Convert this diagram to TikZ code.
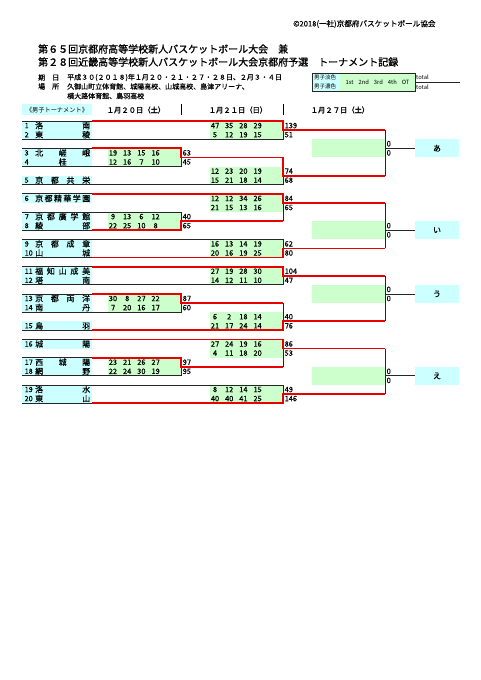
\documentclass[tikz,border=0pt]{standalone}
\usepackage{fontspec}
\setmainfont{Noto Sans CJK JP}
\newfontfamily\heavycjk[FakeBold=1.2]{Noto Sans CJK JP}
\newfontfamily\semicjk[FakeBold=0.4]{Noto Sans CJK JP}
\definecolor{cyanbg}{RGB}{204,255,255}
\definecolor{greenbg}{RGB}{204,255,204}
\definecolor{redln}{RGB}{232,0,0}
\newcommand\fs[1]{\fontsize{#1}{#1}\selectfont}
\newcommand\team[4]{%
  \fill[cyanbg] (22,{ry(#1)}) rectangle (92,{ry(#1+1)});
  \node[tnum] (n#2) at (24.5,{ry(#1)+4.6}) {#3};
  \node[tname] (t#2) at (35,{ry(#1)+4.6}) {\makebox[55pt][l]{#4}};
}
\newcommand\scores[7]{%
  \fill[greenbg] (#2,{ry(#3)}) rectangle ({#2+73},{ry(#3+2)});
  \foreach \s [count=\i] in {#4} {\node[sc] (#1u\i) at ({#2+5+14.2*(\i-1)},{ry(#3)+4.6}) {\s};}
  \foreach \s [count=\i] in {#5} {\node[sc] (#1d\i) at ({#2+5+14.2*(\i-1)},{ry(#3+1)+4.6}) {\s};}
  \node[tot] (#1a) at ({#2+74.5},{ry(#3)+4.6}) {#6};
  \node[tot] (#1b) at ({#2+74.5},{ry(#3+1)+4.6}) {#7};
}
\newcommand\final[3]{% id, row, label
  \fill[greenbg] (312,{ry(#2)}) rectangle (385,{ry(#2+2)});
  \node[tot] (#1a) at (386.5,{ry(#2)+4.6}) {0};
  \node[tot] (#1b) at (386.5,{ry(#2+1)+4.6}) {0};
  \node[res] (#1r) at (437,{ry(#2+1)}) {#3};
  \draw[blk] (385,{ry(#2+1)}) -- (#1r.west);
}
\begin{document}
\begin{tikzpicture}[x=1pt,y=-1pt,
  declare function={ry(\r)=121+9.1*\r;},
  blk/.style={line width=0.8pt,black!85},
  win/.style={line width=1.8pt,redln},
  tnum/.style={anchor=west,inner sep=0,font=\semicjk\fs{7.2}},
  tname/.style={anchor=west,inner sep=0,font=\semicjk\fs{8}},
  sc/.style={inner sep=0,font=\semicjk\fs{7.4}},
  tot/.style={anchor=west,inner sep=0,font=\semicjk\fs{7.4}},
  res/.style={fill=cyanbg,minimum width=44pt,minimum height=18.2pt,inner sep=0,font=\semicjk\fs{8}},
  txt/.style={anchor=west,inner sep=0},
]
\useasboundingbox (0,0) rectangle (481,680);
\fill[white] (0,0) rectangle (481,680);

% header texts
\node[txt,font=\semicjk\fs{7.6}] (copy) at (293,24) {©2018(一社)京都府バスケットボール協会};
\node[txt,font=\heavycjk\fs{10}] (title1) at (38,49) {第６５回京都府高等学校新人バスケットボール大会　兼};
\node[txt,font=\heavycjk\fs{10}] (title2) at (38,62) {第２８回近畿高等学校新人バスケットボール大会京都府予選　トーナメント記録};
\node[txt,font=\semicjk\fs{7}] (kijitsu) at (38,77.5) {\makebox[21pt][l]{期\hfill 日}};
\node[txt,font=\semicjk\fs{7}] (date) at (67,77.5) {平成３０(２０１８)年１月２０・２１・２７・２８日、２月３・４日};
\node[txt,font=\semicjk\fs{7}] (basho) at (38,86.5) {\makebox[21pt][l]{場\hfill 所}};
\node[txt,font=\semicjk\fs{7}] (place1) at (67,86.5) {久御山町立体育館、城陽高校、山城高校、島津アリーナ、};
\node[txt,font=\semicjk\fs{7}] (place2) at (67,96) {横大路体育館、鳥羽高校};

% legend
\fill[cyanbg] (312,73) rectangle (340,91);
\fill[greenbg] (340,73) rectangle (415,91);
\draw[blk] (312,73) rectangle (415,91);
\node[txt,font=\fs{5.5}] (lg1) at (314,77.5) {男子淡色};
\node[txt,font=\fs{5.5}] (lg2) at (314,86.5) {男子濃色};
\node[inner sep=0,font=\fs{5.8}] (lgq) at (377.5,82) {1st\hspace{5pt}2nd\hspace{5pt}3rd\hspace{5pt}4th\hspace{5pt}OT};
\node[txt,font=\fs{5.8}] (lgt1) at (416,77.5) {total};
\node[txt,font=\fs{5.8}] (lgt2) at (416,87) {total};
\coordinate (lgend) at (460,82);
\draw[blk] (415,82) -- (lgend);

% round headers
\fill[cyanbg] (22,104) rectangle (92,115);
\node[inner sep=0,font=\fs{6.2}] (hdr) at (57,110) {《男子トーナメント》};
\node[inner sep=0,font=\heavycjk\fs{7.3}] (d1) at (136,110) {１月２０日（土）};
\node[inner sep=0,font=\heavycjk\fs{7.3}] (d2) at (238,110) {１月２１日（日）};
\node[inner sep=0,font=\heavycjk\fs{7.3}] (d3) at (340,110) {１月２７日（土）};
\draw[line width=1pt] (181,104) -- (181,115);
\draw[line width=1pt] (283,104) -- (283,115);

% teams
\team{0}{1}{1}{洛\hfill 南}
\team{1}{2}{2}{東\hfill 稜}
\team{3}{3}{3}{北\hfill 嵯\hfill 峨}
\team{4}{4}{4}{\hfill 桂\hfill}
\team{6}{5}{5}{京\hfill 都\hfill 共\hfill 栄}
\team{8}{6}{6}{京\hfill 都\hfill 精\hfill 華\hfill 学\hfill 園}
\team{10}{7}{7}{京\hfill 都\hfill 廣\hfill 学\hfill 館}
\team{11}{8}{8}{綾\hfill 部}
\team{13}{9}{9}{京\hfill 都\hfill 成\hfill 章}
\team{14}{10}{10}{山\hfill 城}
\team{16}{11}{11}{福\hfill 知\hfill 山\hfill 成\hfill 美}
\team{17}{12}{12}{塔\hfill 南}
\team{19}{13}{13}{京\hfill 都\hfill 両\hfill 洋}
\team{20}{14}{14}{南\hfill 丹}
\team{22}{15}{15}{鳥\hfill 羽}
\team{24}{16}{16}{城\hfill 陽}
\team{26}{17}{17}{西\hfill 城\hfill 陽}
\team{27}{18}{18}{網\hfill 野}
\team{29}{19}{19}{洛\hfill 水}
\team{30}{20}{20}{東\hfill 山}

% round 1 (1/20)
\scores{ra}{108}{3}{19,13,15,16}{12,16,7,10}{63}{45}
\scores{rb}{108}{10}{9,13,6,12}{22,25,10,8}{40}{65}
\scores{rc}{108}{19}{30,8,27,22}{7,20,16,17}{87}{60}
\scores{rd}{108}{26}{23,21,26,27}{22,24,30,19}{97}{95}
% round 2 (1/21)
\scores{sa}{210}{0}{47,35,28,29}{5,12,19,15}{139}{51}
\scores{sb}{210}{5}{12,23,20,19}{15,21,18,14}{74}{68}
\scores{sc}{210}{8}{12,12,34,26}{21,15,13,16}{84}{65}
\scores{sd}{210}{13}{16,13,14,19}{20,16,19,25}{62}{80}
\scores{se}{210}{16}{27,19,28,30}{14,12,11,10}{104}{47}
\scores{sf}{210}{21}{6,2,18,14}{21,17,24,14}{40}{76}
\scores{sg}{210}{24}{27,24,19,16}{4,11,18,20}{86}{53}
\scores{sh}{210}{29}{8,12,14,15}{40,40,41,25}{49}{146}

% black lines
\draw[blk] (22,{ry(0)}) -- (92,{ry(0)});
\draw[blk] (22,{ry(2)}) -- (283,{ry(2)}) -- (283,{ry(1)});
\draw[blk] (22,{ry(3)}) -- (92,{ry(3)});
\draw[blk] (22,{ry(5)}) -- (181,{ry(5)}) -- (181,{ry(4)});
\draw[blk] (22,{ry(7)}) -- (283,{ry(7)}) -- (283,{ry(6)});
\draw[blk] (22,{ry(8)}) -- (92,{ry(8)});
\draw[blk] (283,{ry(9)}) -- (283,{ry(11)});
\draw[blk] (22,{ry(10)}) -- (181,{ry(10)}) -- (181,{ry(11)});
\draw[blk] (22,{ry(12)}) -- (92,{ry(12)});
\draw[blk] (22,{ry(13)}) -- (283,{ry(13)}) -- (283,{ry(14)});
\draw[blk] (22,{ry(15)}) -- (92,{ry(15)});
\draw[blk] (22,{ry(16)}) -- (92,{ry(16)});
\draw[blk] (22,{ry(18)}) -- (283,{ry(18)}) -- (283,{ry(17)});
\draw[blk] (22,{ry(19)}) -- (92,{ry(19)});
\draw[blk] (22,{ry(21)}) -- (181,{ry(21)}) -- (181,{ry(20)});
\draw[blk] (283,{ry(20)}) -- (283,{ry(22)});
\draw[blk] (22,{ry(23)}) -- (92,{ry(23)});
\draw[blk] (22,{ry(24)}) -- (92,{ry(24)});
\draw[blk] (283,{ry(25)}) -- (283,{ry(27)});
\draw[blk] (22,{ry(26)}) -- (92,{ry(26)});
\draw[blk] (22,{ry(28)}) -- (181,{ry(28)}) -- (181,{ry(27)});
\draw[blk] (22,{ry(29)}) -- (283,{ry(29)}) -- (283,{ry(30)});
\draw[blk] (22,{ry(31)}) -- (92,{ry(31)});
% round 3 verticals
\draw[blk] (385,{ry(1)}) -- (385,{ry(6)});
\draw[blk] (385,{ry(9)}) -- (385,{ry(14)});
\draw[blk] (385,{ry(17)}) -- (385,{ry(22)});
\draw[blk] (385,{ry(25)}) -- (385,{ry(30)});

% finals (1/27)
\final{fa}{2}{あ}
\final{fb}{11}{い}
\final{fc}{18}{う}
\final{fd}{27}{え}

% winner lines
\draw[win] (92,{ry(0)}) -- (283,{ry(0)}) -- (283,{ry(1)}) -- (385,{ry(1)});
\draw[win] (92,{ry(3)}) -- (181,{ry(3)}) -- (181,{ry(4)}) -- (283,{ry(4)}) -- (283,{ry(6)}) -- (385,{ry(6)});
\draw[win] (92,{ry(8)}) -- (283,{ry(8)}) -- (283,{ry(9)}) -- (385,{ry(9)});
\draw[win] (92,{ry(12)}) -- (181,{ry(12)}) -- (181,{ry(11)}) -- (283,{ry(11)});
\draw[win] (92,{ry(15)}) -- (283,{ry(15)}) -- (283,{ry(14)}) -- (385,{ry(14)});
\draw[win] (92,{ry(16)}) -- (283,{ry(16)}) -- (283,{ry(17)}) -- (385,{ry(17)});
\draw[win] (92,{ry(19)}) -- (181,{ry(19)}) -- (181,{ry(20)}) -- (283,{ry(20)});
\draw[win] (92,{ry(23)}) -- (283,{ry(23)}) -- (283,{ry(22)}) -- (385,{ry(22)});
\draw[win] (92,{ry(24)}) -- (283,{ry(24)}) -- (283,{ry(25)}) -- (385,{ry(25)});
\draw[win] (92,{ry(26)}) -- (181,{ry(26)}) -- (181,{ry(27)}) -- (283,{ry(27)});
\draw[win] (92,{ry(31)}) -- (283,{ry(31)}) -- (283,{ry(30)}) -- (385,{ry(30)});
\end{tikzpicture}
\end{document}
